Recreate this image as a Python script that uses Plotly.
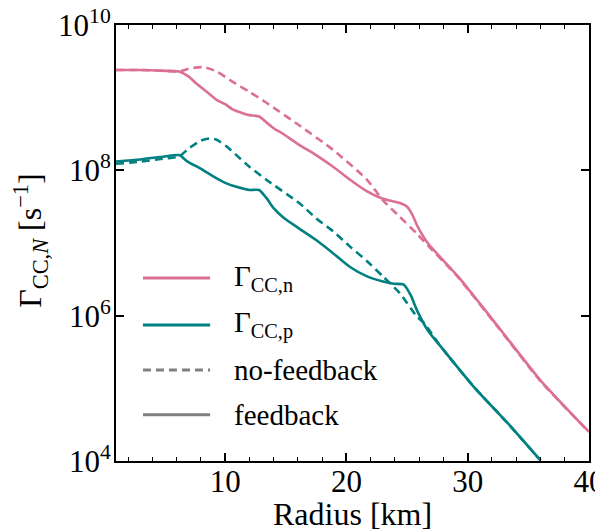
import plotly.graph_objects as go

# Radius [km] and rates [s^-1]
r_n_fb = [1.0, 3.0, 5.0, 6.2, 7.0, 7.6, 8.5, 9.3, 10.0, 10.6, 11.4, 12.0, 12.8, 13.4, 14.0, 14.8,
          16.1, 17.5, 18.9, 20.3, 21.7, 23.0, 24.4, 25.0, 25.4, 25.8, 26.7, 29.2, 32.5, 36.0, 40.0]
g_n_fb = [2.40e9, 2.40e9, 2.34e9, 2.29e9, 1.95e9, 1.58e9, 1.20e9, 9.33e8, 8.13e8, 6.92e8, 6.17e8,
          5.75e8, 5.50e8, 4.57e8, 3.80e8, 3.16e8, 2.24e8, 1.62e8, 1.12e8, 7.41e7, 5.13e7, 4.07e7,
          3.55e7, 3.16e7, 2.51e7, 1.78e7, 1.00e7, 3.47e6, 7.08e5, 1.29e5, 2.51e4]

r_n_nf = [1.0, 3.0, 5.0, 6.2, 7.0, 8.2, 9.3, 10.6, 12.0, 13.4, 16.1, 18.9, 21.7, 23.0, 24.4, 25.8,
          26.4, 29.2, 32.5, 36.0, 40.0]
g_n_nf = [2.40e9, 2.40e9, 2.34e9, 2.29e9, 2.51e9, 2.63e9, 2.29e9, 1.66e9, 1.20e9, 8.51e8, 4.17e8,
          1.91e8, 7.41e7, 3.89e7, 2.29e7, 1.35e7, 1.05e7, 3.39e6, 6.92e5, 1.26e5, 2.51e4]

r_p_fb = [1.0, 3.0, 5.0, 6.2, 6.9, 7.9, 9.3, 10.1, 11.0, 12.0, 12.8, 13.4, 14.0, 14.8, 16.1, 17.5,
          18.9, 20.3, 21.7, 23.0, 23.9, 24.7, 25.3, 25.8, 26.7, 27.8, 30.5, 33.3, 36.0]
g_p_fb = [1.32e8, 1.41e8, 1.55e8, 1.62e8, 1.32e8, 1.07e8, 7.76e7, 6.61e7, 5.89e7, 5.37e7, 5.37e7,
          4.17e7, 3.02e7, 2.24e7, 1.58e7, 1.10e7, 7.24e6, 4.68e6, 3.47e6, 2.95e6, 2.75e6, 2.69e6,
          1.91e6, 1.20e6, 6.31e5, 3.72e5, 1.05e5, 3.31e4, 1.02e4]

r_p_nf = [1.0, 3.0, 5.0, 6.2, 7.0, 8.0, 8.7, 9.3, 10.1, 11.0, 12.0, 13.4, 16.1, 17.5, 18.9, 20.3,
          21.7, 23.0, 24.4, 25.8, 26.4, 27.8, 30.5, 33.3, 36.0]
g_p_nf = [1.23e8, 1.32e8, 1.45e8, 1.55e8, 2.00e8, 2.57e8, 2.75e8, 2.63e8, 2.14e8, 1.58e8, 1.12e8,
          7.41e7, 3.55e7, 2.19e7, 1.45e7, 8.91e6, 5.62e6, 3.47e6, 2.04e6, 9.77e5, 7.94e5, 3.72e5,
          1.05e5, 3.31e4, 1.02e4]

x_ticks = [10, 20, 30, 40]
y_tickvals = [1e4, 1e6, 1e8, 1e10]
y_ticktext = ["10<sup>4</sup>", "10<sup>6</sup>", "10<sup>8</sup>", "10<sup>10</sup>"]

legend_names = ["Γ<sub>CC,n</sub>", "Γ<sub>CC,p</sub>", "no-feedback", "feedback"]

PINK = "#DB7093"
TEAL = "#008080"
GREY = "#808080"
FONT = "Liberation Serif"
DASH = "8px,5px"
LW = 2.6

fig = go.Figure()
fig.add_trace(go.Scatter(x=r_n_nf, y=g_n_nf, mode="lines", showlegend=False,
                         line=dict(color=PINK, width=LW, dash=DASH, shape="spline", smoothing=0.6)))
fig.add_trace(go.Scatter(x=r_p_nf, y=g_p_nf, mode="lines", showlegend=False,
                         line=dict(color=TEAL, width=LW, dash=DASH, shape="spline", smoothing=0.6)))
fig.add_trace(go.Scatter(x=r_n_fb, y=g_n_fb, mode="lines", showlegend=False,
                         line=dict(color=PINK, width=LW, shape="spline", smoothing=0.6)))
fig.add_trace(go.Scatter(x=r_p_fb, y=g_p_fb, mode="lines", showlegend=False,
                         line=dict(color=TEAL, width=LW, shape="spline", smoothing=0.6)))

# legend drawn by hand (paper coordinates of plot area)
leg_styles = [(PINK, "solid"), (TEAL, "solid"), (GREY, DASH), (GREY, "solid")]
leg_rows = [0.420, 0.312, 0.209, 0.106]
for name, (col, dash), yy in zip(legend_names, leg_styles, leg_rows):
    fig.add_shape(type="line", xref="paper", yref="paper", x0=0.057, x1=0.199, y0=yy, y1=yy,
                  line=dict(color=col, width=3, dash=dash))
    fig.add_annotation(xref="paper", yref="paper", x=0.245, y=yy, text=name, showarrow=False,
                       xanchor="left", yanchor="middle",
                       font=dict(family=FONT, size=29, color="black"))

axis_common = dict(showline=True, linecolor="black", linewidth=2, mirror="ticks",
                   ticks="inside", tickcolor="black", tickwidth=1.5, ticklen=8,
                   showgrid=False, zeroline=False, automargin=False,
                   ticklabeloverflow="allow",
                   tickfont=dict(family=FONT, size=31, color="black"))

fig.update_xaxes(range=[1, 40], tickvals=x_ticks, ticklabelstandoff=-8,
                 minor=dict(ticks="inside", ticklen=4, tickwidth=1.2, tickcolor="black", dtick=2, tick0=0),
                 **axis_common)
fig.update_yaxes(type="log", range=[4, 10], tickvals=y_tickvals, ticktext=y_ticktext,
                 ticklabelstandoff=-3, **axis_common)

fig.add_annotation(xref="paper", yref="paper", x=0.5, y=-0.122, text="Radius [km]",
                   showarrow=False, xanchor="center", yanchor="middle",
                   font=dict(family=FONT, size=32, color="black"))
fig.add_annotation(xref="paper", yref="paper", x=-0.18, y=0.507,
                   text="Γ<sub>CC,<i>N</i></sub> [s<sup>−1</sup>]", textangle=-90,
                   showarrow=False, xanchor="center", yanchor="middle",
                   font=dict(family=FONT, size=32, color="black"))

# page body adds an 8px offset; size the figure to fill the window
fig.update_layout(
    width=595, height=524,
    margin=dict(l=108, r=14, t=17, b=71),
    paper_bgcolor="white", plot_bgcolor="white",
    font=dict(family=FONT, color="black"),
    showlegend=False,
)

fig.write_html("out.html")
